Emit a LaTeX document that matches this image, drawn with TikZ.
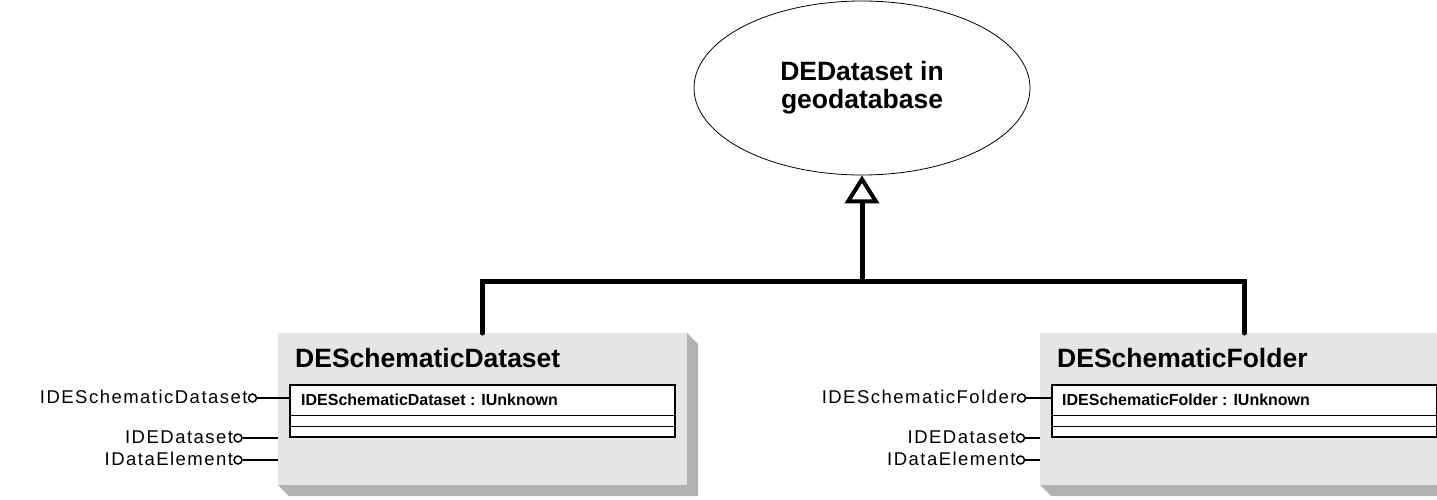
\documentclass[tikz,border=0pt]{standalone}
\usepackage{fontspec}
\setmainfont{Liberation Sans}
\newfontfamily\ifacefont[LetterSpace=8]{Liberation Sans}
\usetikzlibrary{shapes.geometric,arrows.meta,positioning}

\definecolor{facegray}{gray}{0.9}
\definecolor{shadegray}{gray}{0.7}

\begin{document}
\begin{tikzpicture}[x=1pt,y=-1pt,
    face/.style={fill=facegray,minimum width=409pt,minimum height=152pt,inner sep=0pt,outer sep=0pt},
    shade/.style={fill=shadegray},
    classname/.style={anchor=base west,inner sep=0pt,font=\fontsize{26.5}{30}\selectfont\bfseries},
    ifbox/.style={draw,line width=1.6pt,fill=white,minimum width=385pt,minimum height=52pt,inner sep=0pt,outer sep=0pt,anchor=north west},
    iftext/.style={anchor=base west,inner sep=0pt,font=\fontsize{16}{19}\selectfont\bfseries},
    lolli/.style={circle,draw,line width=1.5pt,fill=white,minimum size=8pt,inner sep=0pt},
    lolabel/.style={anchor=base east,inner sep=0pt,font=\fontsize{18.5}{21}\ifacefont},
    stick/.style={line width=1.5pt},
    gen/.style={line width=5pt,line cap=round}]
    \useasboundingbox (0,0) rectangle (1437,499);
    \clip (0,0) rectangle (1437,499);
    \def\sh{11}

    \node[ellipse,draw,line width=0.8pt,minimum width=336pt,minimum height=174pt,inner sep=0pt,
      align=center,font=\fontsize{26.5}{28}\selectfont\bfseries] (geodb) at (862,88) {DEDataset in\\geodatabase};

    % DESchematicDataset
    \node[face] (dsface) at (482.5,409) {};
    \fill[shade] (dsface.north east) -- ++(\sh,\sh) -- ([shift={(\sh,\sh)}]dsface.south east)
      -- ([shift={(\sh,\sh)}]dsface.south west) -- (dsface.south west) -- (dsface.south east) -- cycle;
    \node[classname] (dstitle) at ([shift={(17,34)}]dsface.north west) {DESchematicDataset};
    \node[ifbox] (dsif) at ([shift={(12,52)}]dsface.north west) {};
    \node[iftext] (dsiftext) at ([shift={(11,20)}]dsif.north west) {IDESchematicDataset : IUnknown};
    \draw[line width=0.8pt] ([shift={(0,30)}]dsif.north west) -- ([shift={(0,30)}]dsif.north east);
    \draw[line width=0.8pt] ([shift={(0,41)}]dsif.north west) -- ([shift={(0,41)}]dsif.north east);

    \node[lolli] (dsl1) at (252.5,398) {};
    \node[lolli] (dsl2) at (238,438) {};
    \node[lolli] (dsl3) at (238,460) {};
    \node[lolabel] (dslab1) at ([shift={(0,5)}]dsl1.west) {IDESchematicDataset};
    \node[lolabel] (dslab2) at ([shift={(0,5)}]dsl2.west) {IDEDataset};
    \node[lolabel] (dslab3) at ([shift={(0,5)}]dsl3.west) {IDataElement};
    \draw[stick] (dsl1) -- (dsl1 -| dsif.west);
    \draw[stick] (dsl2) -- (dsl2 -| dsface.west);
    \draw[stick] (dsl3) -- (dsl3 -| dsface.west);

    % DESchematicFolder
    \node[face] (sfface) at (1244.5,409) {};
    \fill[shade] (sfface.north east) -- ++(\sh,\sh) -- ([shift={(\sh,\sh)}]sfface.south east)
      -- ([shift={(\sh,\sh)}]sfface.south west) -- (sfface.south west) -- (sfface.south east) -- cycle;
    \node[classname] (sftitle) at ([shift={(17,34)}]sfface.north west) {DESchematicFolder};
    \node[ifbox] (sfif) at ([shift={(12,52)}]sfface.north west) {};
    \node[iftext] (sfiftext) at ([shift={(10,20)}]sfif.north west) {IDESchematicFolder : IUnknown};
    \draw[line width=0.8pt] ([shift={(0,30)}]sfif.north west) -- ([shift={(0,30)}]sfif.north east);
    \draw[line width=0.8pt] ([shift={(0,41)}]sfif.north west) -- ([shift={(0,41)}]sfif.north east);

    \node[lolli] (sfl1) at (1021.5,398) {};
    \node[lolli] (sfl2) at (1020.5,438) {};
    \node[lolli] (sfl3) at (1020.5,460) {};
    \node[lolabel] (sflab1) at ([shift={(0,5)}]sfl1.west) {IDESchematicFolder};
    \node[lolabel] (sflab2) at ([shift={(0,5)}]sfl2.west) {IDEDataset};
    \node[lolabel] (sflab3) at ([shift={(0,5)}]sfl3.west) {IDataElement};
    \draw[stick] (sfl1) -- (sfl1 -| sfif.west);
    \draw[stick] (sfl2) -- (sfl2 -| sfface.west);
    \draw[stick] (sfl3) -- (sfl3 -| sfface.west);

    % generalization
    \coordinate (jn) at (862,281.5);
    \draw[gen] (dsface.north) |- (jn) -| (sfface.north);
    \draw[gen,-{Triangle[open,length=28pt,width=34pt,line width=4pt]}] (jn) -- (geodb.south);
\end{tikzpicture}
\end{document}
